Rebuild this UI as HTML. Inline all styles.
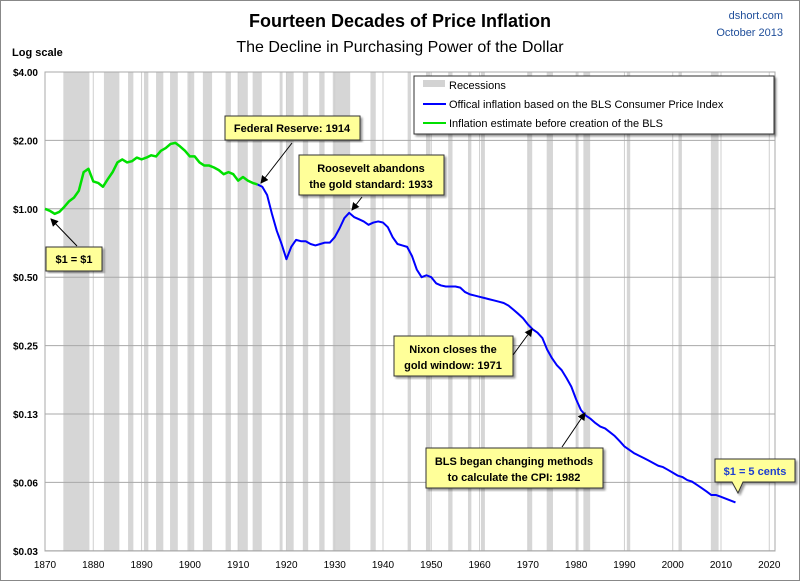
<!DOCTYPE html>
<html><head><meta charset="utf-8"><style>
body{margin:0;background:#fff;font-family:"Liberation Sans",sans-serif}
svg text{font-family:"Liberation Sans",sans-serif}
</style></head><body>
<svg id="chart" width="800" height="581" viewBox="0 0 800 581">
<defs>
<marker id="ah" markerWidth="8" markerHeight="8" refX="7" refY="4" orient="auto"><path d="M0,0 L8,4 L0,8 z" fill="#000"/></marker>
<filter id="sh"><feDropShadow dx="2" dy="2" stdDeviation="1" flood-color="#000" flood-opacity="0.4"/></filter>
</defs>
<rect x="0.5" y="0.5" width="799" height="580" fill="#fff" stroke="#888"/>
<text x="400" y="27" text-anchor="middle" font-size="18" font-weight="bold">Fourteen Decades of Price Inflation</text>
<text x="400" y="52" text-anchor="middle" font-size="16">The Decline in Purchasing Power of the Dollar</text>
<text x="783" y="19" text-anchor="end" font-size="11" fill="#1f4e9a">dshort.com</text>
<text x="783" y="36" text-anchor="end" font-size="11" fill="#1f4e9a">October 2013</text>
<text x="12" y="56" font-size="11" font-weight="bold">Log scale</text>
<g id="bands"></g><g id="grid"></g><g id="axes"></g><g id="series"></g>
<g id="legend">
<rect x="414" y="76" width="360" height="58" fill="#fff" stroke="#333" filter="url(#sh)"/>
<rect x="423" y="80" width="22" height="7" fill="#d3d3d3"/>
<text x="449" y="89" font-size="11">Recessions</text>
<line x1="423" y1="104" x2="446" y2="104" stroke="#0000ff" stroke-width="2"/>
<text x="449" y="108" font-size="11">Offical inflation based on the BLS Consumer Price Index</text>
<line x1="423" y1="123" x2="446" y2="123" stroke="#00e000" stroke-width="2"/>
<text x="449" y="127" font-size="11">Inflation estimate before creation of the BLS</text>
</g>
<g font-size="11" font-weight="bold">
<g>
<rect x="225" y="116" width="135" height="24" fill="#ffff99" stroke="#333" filter="url(#sh)"/>
<text x="292" y="132" text-anchor="middle">Federal Reserve: 1914</text>
<line x1="292" y1="143" x2="261" y2="183" stroke="#000" marker-end="url(#ah)"/></g>
<g>
<rect x="299" y="155" width="145" height="40" fill="#ffff99" stroke="#333" filter="url(#sh)"/>
<text x="371" y="172" text-anchor="middle">Roosevelt abandons</text>
<text x="371" y="188" text-anchor="middle">the gold standard: 1933</text>
<line x1="362" y1="197" x2="352" y2="210" stroke="#000" marker-end="url(#ah)"/></g>
<g>
<rect x="46" y="247" width="56" height="24" fill="#ffff99" stroke="#333" filter="url(#sh)"/>
<text x="74" y="263" text-anchor="middle">$1 = $1</text>
<line x1="77" y1="246" x2="51" y2="219" stroke="#000" marker-end="url(#ah)"/></g>
<g>
<rect x="394" y="336" width="119" height="40" fill="#ffff99" stroke="#333" filter="url(#sh)"/>
<text x="453" y="353" text-anchor="middle">Nixon closes the</text>
<text x="453" y="369" text-anchor="middle">gold window: 1971</text>
<line x1="513" y1="355" x2="532" y2="329" stroke="#000" marker-end="url(#ah)"/></g>
<g>
<rect x="426" y="448" width="177" height="40" fill="#ffff99" stroke="#333" filter="url(#sh)"/>
<text x="514" y="465" text-anchor="middle">BLS began  changing methods</text>
<text x="514" y="481" text-anchor="middle">to calculate the CPI: 1982</text>
<line x1="562" y1="447" x2="585" y2="413" stroke="#000" marker-end="url(#ah)"/></g>
<g>
<path d="M715,459 H795 V482 H743 L738,493 L732,482 H715 Z" fill="#ffff99" stroke="#333" filter="url(#sh)"/>
<text x="755" y="475" text-anchor="middle" fill="#1f3fd0">$1 = 5 cents</text></g>
</g>
</svg>
<script>
const recessionStarts=[1873.8,1882.2,1887.2,1890.5,1893.0,1895.9,1899.5,1902.7,1907.4,1910.0,1913.0,1918.6,1920.0,1923.4,1926.8,1929.6,1937.4,1945.1,1948.9,1953.5,1957.6,1960.3,1969.9,1973.9,1980.0,1981.5,1990.5,2001.2,2007.9];
const recessionEnds=[1879.2,1885.4,1888.3,1891.4,1894.5,1897.5,1900.9,1904.6,1908.5,1912.0,1914.9,1919.2,1921.5,1924.5,1927.9,1933.2,1938.5,1945.8,1949.8,1954.4,1958.3,1961.1,1970.9,1975.2,1980.5,1982.9,1991.2,2001.9,2009.5];
const yTicks=[4,2,1,0.5,0.25,0.125,0.0625,0.03125];
const yTickLabels=["$4.00","$2.00","$1.00","$0.50","$0.25","$0.13","$0.06","$0.03"];
const xTicks=[1870,1880,1890,1900,1910,1920,1930,1940,1950,1960,1970,1980,1990,2000,2010,2020];
const greenYears=[1870,1871,1872,1873,1874,1875,1876,1877,1878,1879,1880,1881,1882,1883,1884,1885,1886,1887,1888,1889,1890,1891,1892,1893,1894,1895,1896,1897,1898,1899,1900,1901,1902,1903,1904,1905,1906,1907,1908,1909,1910,1911,1912,1913,1914];
const greenValues=[1.0,0.98,0.95,0.97,1.02,1.08,1.12,1.2,1.45,1.5,1.32,1.3,1.25,1.35,1.45,1.6,1.65,1.6,1.62,1.68,1.65,1.68,1.72,1.7,1.8,1.85,1.93,1.95,1.88,1.8,1.7,1.7,1.6,1.55,1.55,1.52,1.48,1.42,1.45,1.42,1.33,1.38,1.33,1.3,1.28];
const blueStartYear=1914;
const blueValues=[1.28,1.25,1.15,0.95,0.8,0.7,0.6,0.68,0.73,0.72,0.72,0.7,0.69,0.7,0.71,0.71,0.75,0.82,0.91,0.96,0.92,0.9,0.88,0.85,0.87,0.88,0.87,0.83,0.75,0.7,0.69,0.68,0.62,0.54,0.5,0.51,0.5,0.47,0.46,0.455,0.455,0.455,0.45,0.43,0.42,0.415,0.41,0.405,0.4,0.395,0.39,0.385,0.375,0.36,0.345,0.33,0.31,0.295,0.285,0.27,0.24,0.22,0.205,0.195,0.18,0.165,0.145,0.13,0.123,0.119,0.114,0.11,0.108,0.104,0.1,0.095,0.09,0.087,0.084,0.082,0.08,0.078,0.076,0.074,0.073,0.071,0.069,0.067,0.066,0.064,0.063,0.061,0.059,0.057,0.055,0.055,0.054,0.053,0.052,0.051];
const L=45,R=775,T=72,B=551;
const X=y=>45+(y-1870)*(769-431)/70;
const Y=v=>72+Math.log2(4/v)*68.4;
const NS="http://www.w3.org/2000/svg";
function mk(p,tag,at){const e=document.createElementNS(NS,tag);for(const k in at)e.setAttribute(k,at[k]);p.appendChild(e);return e;}
const bands=document.getElementById('bands'),grid=document.getElementById('grid'),axes=document.getElementById('axes'),series=document.getElementById('series');
recessionStarts.forEach((s,i)=>{const r=mk(bands,'rect',{x:X(s),y:T,width:Math.max(2,X(recessionEnds[i])-X(s)),height:B-T,fill:'#d6d6d6'});

});
xTicks.forEach(t=>{const l=mk(grid,'line',{x1:X(t),x2:X(t),y1:T,y2:B,stroke:'#cfcfcf','stroke-width':1});


const tx=mk(axes,'text',{x:X(t),y:568,'text-anchor':'middle','font-size':10});tx.textContent=t;

});
yTicks.forEach((v,i)=>{const l=mk(grid,'line',{x1:L,x2:R,y1:Y(v),y2:Y(v),stroke:'#a8a8a8','stroke-width':1});


const tx=mk(axes,'text',{x:38,y:Y(v)+4,'text-anchor':'end','font-size':10,'font-weight':'bold'});tx.textContent=yTickLabels[i];

});
const ax=mk(axes,'rect',{x:L,y:T,width:R-L,height:B-T,fill:'none',stroke:'#a8a8a8'});


const bp=blueValues.map((v,i)=>X(blueStartYear+i)+','+Y(v)).join(' ');
const bl=mk(series,'polyline',{points:bp,fill:'none',stroke:'#0000ff','stroke-width':2,'stroke-linejoin':'round'});


const gp=greenValues.map((v,i)=>X(greenYears[i])+','+Y(v)).join(' ');
const gl=mk(series,'polyline',{points:gp,fill:'none',stroke:'#00e000','stroke-width':2.5,'stroke-linejoin':'round'});


</script>
</body></html>
